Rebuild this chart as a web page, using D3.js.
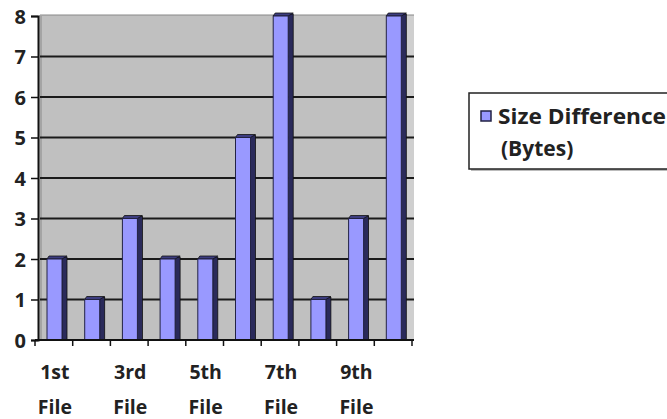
<!DOCTYPE html>
<html><head><meta charset="utf-8">
<script src="https://cdn.jsdelivr.net/npm/d3@7"></script>
<style>body{margin:0;background:#fff}svg{display:block}text{font-family:"Open Sans",sans-serif;font-weight:bold;fill:#222}</style>
</head><body><svg id="c" width="667" height="419"></svg>
<script>
const categories = ["1st File","2nd File","3rd File","4th File","5th File","6th File","7th File","8th File","9th File","10th File"];
const values = [2,1,3,2,2,5,8,1,3,8];
const yTicks = [0,1,2,3,4,5,6,7,8];
const xTickLabels = {"1st File":["1st","File"],"3rd File":["3rd","File"],"5th File":["5th","File"],"7th File":["7th","File"],"9th File":["9th","File"]};
const seriesName = ["Size Difference","(Bytes)"];

const svg = d3.select("#c");
const x = d3.scaleBand().domain(categories).range([35,412]).padding(0);
const y = d3.scaleLinear().domain([0,8]).range([340,16]);
const bw = x.bandwidth();

// plot background
svg.append("rect").attr("x",39).attr("y",y(8)-1).attr("width",375).attr("height",y(0)-y(8)+1).attr("fill","#c0c0c0");
svg.append("rect").attr("x",405).attr("y",y(8)-1).attr("width",9).attr("height",y(0)-y(8)+1).attr("fill","#cfcfcf");
svg.append("line").attr("x1",405).attr("x2",405).attr("y1",y(8)).attr("y2",y(0)).attr("stroke","#999").attr("stroke-width",1);
svg.append("line").attr("x1",40).attr("x2",414).attr("y1",y(8)-1).attr("y2",y(8)-1).attr("stroke","#888").attr("stroke-width",1);
svg.append("line").attr("x1",41).attr("x2",41).attr("y1",y(8)).attr("y2",y(0)).attr("stroke","#888").attr("stroke-width",1);

// gridlines
svg.append("g").selectAll("line").data(yTicks.filter(d=>d>0&&d<8)).join("line")
  .attr("x1",40).attr("x2",414).attr("y1",d=>y(d)).attr("y2",d=>y(d))
  .attr("stroke","#1a1a1a").attr("stroke-width",2.2);

// bars (3D style)
const front = 15, side = 5, cap = 3;
const g = svg.append("g");
categories.forEach((c,i)=>{
  const x0 = x(c) + 12;
  const top = y(values[i]);
  g.append("rect").attr("x",x0+front).attr("y",top-cap+1).attr("width",side).attr("height",y(0)-top+cap-1)
    .attr("fill","#2a2a5a").attr("stroke","#111").attr("stroke-width",0.8);
  g.append("path").attr("d",`M${x0},${top} L${x0+2},${top-cap} L${x0+front+side},${top-cap} L${x0+front},${top} Z`)
    .attr("fill","#3d3d80").attr("stroke","#111").attr("stroke-width",0.8);
  g.append("rect").attr("x",x0).attr("y",top).attr("width",front).attr("height",y(0)-top)
    .attr("fill","#9999ff").attr("stroke","#222244").attr("stroke-width",1);
});

// y axis
const ya = svg.append("g").attr("transform","translate(38,0)")
  .call(d3.axisLeft(y).tickValues(yTicks).tickSize(7).tickPadding(5).tickFormat(d3.format("d")));
ya.select(".domain").attr("stroke","#111").attr("stroke-width",2);
ya.selectAll(".tick line").attr("stroke","#111").attr("stroke-width",1.5);
ya.selectAll(".tick text").attr("font-size",20).attr("font-family","'Open Sans',sans-serif").attr("font-weight","bold").attr("fill","#222").attr("dy","0.35em");

// x axis
const xa = svg.append("g").attr("transform",`translate(0,${y(0)})`);
xa.append("line").attr("x1",35).attr("x2",414).attr("y1",0).attr("y2",0).attr("stroke","#111").attr("stroke-width",2);
const bounds = categories.map(c=>x(c)).concat([x(categories[categories.length-1])+bw]);
xa.selectAll("line.t").data(bounds).join("line").attr("class","t")
  .attr("x1",d=>d).attr("x2",d=>d).attr("y1",0).attr("y2",6).attr("stroke","#111").attr("stroke-width",1.5);
const lab = xa.selectAll("text.l").data(categories.filter(c=>xTickLabels[c])).join("text").attr("class","l")
  .attr("text-anchor","middle").attr("font-size",19.5);
lab.append("tspan").attr("x",c=>x(c)+bw/2+1).attr("y",39).text(c=>xTickLabels[c][0]);
lab.append("tspan").attr("x",c=>x(c)+bw/2+1).attr("y",74).text(c=>xTickLabels[c][1]);

// legend
svg.append("rect").attr("x",471).attr("y",95).attr("width",220).attr("height",76).attr("fill","#bbb");
svg.append("rect").attr("x",469).attr("y",93).attr("width",220).attr("height",76).attr("fill","#fff").attr("stroke","#222").attr("stroke-width",1.5);
svg.append("rect").attr("x",481).attr("y",111).attr("width",10).attr("height",10).attr("fill","#9999ff").attr("stroke","#222244").attr("stroke-width",1.5);
svg.append("text").attr("x",498).attr("y",124).attr("font-size",21).attr("textLength",168).attr("lengthAdjust","spacingAndGlyphs").text(seriesName[0]);
svg.append("text").attr("x",501).attr("y",156).attr("font-size",21).text(seriesName[1]);
</script></body></html>
